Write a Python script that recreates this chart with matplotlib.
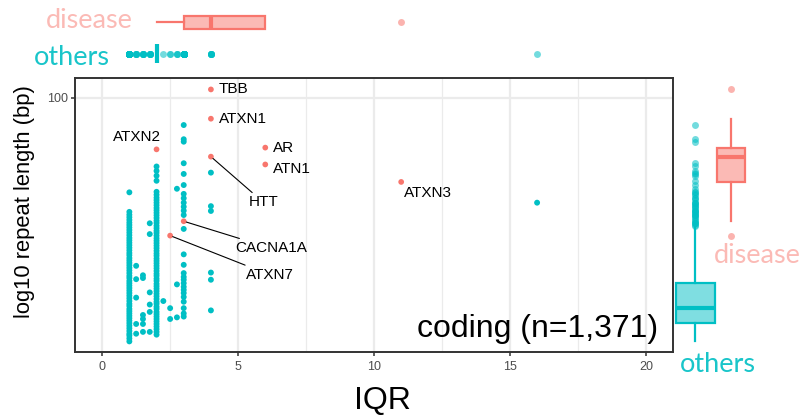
import numpy as np
import matplotlib
matplotlib.use("Agg")
import matplotlib.pyplot as plt
import matplotlib.colors as mcolors
from matplotlib import cbook
from matplotlib.ticker import FixedLocator, NullLocator

plt.rcParams['font.family'] = ['Liberation Sans', 'DejaVu Sans']

# ---------------- data ----------------
disease_genes = ['TBB', 'ATXN1', 'ATXN2', 'HTT', 'AR', 'ATN1', 'CACNA1A', 'ATXN7', 'ATXN3']
disease_iqr = [4, 4, 2, 4, 6, 6, 3, 2.5, 11]
disease_len = [108, 83, 63, 59, 64, 55, 33, 29, 47]

# "others" repeats, grouped by IQR value (repeat length in bp)
others_len_1 = [11.2, 11.5, 11.8, 12.0, 12.3, 12.6, 12.9, 13.2, 13.5, 13.8, 14.1, 14.4, 14.7,
                15.0, 15.4, 15.7, 16.1, 16.5, 16.9, 17.3, 17.7, 18.1, 18.5, 18.9, 19.3, 19.8,
                20.2, 20.7, 21.2, 21.7, 22.2, 22.7, 23.2, 23.7, 24.3, 24.8, 25.4, 26.0, 26.6,
                27.2, 27.8, 28.4, 29.1, 29.8, 30.5, 31.2, 31.9, 32.6, 33.4, 34.2, 35.0, 35.9, 42.8]
others_len_125 = [12.0, 13.1, 16.6, 19.6, 22.1]
others_len_15 = [12.2, 13.1, 13.7, 14.2, 19.8, 20.3]
others_len_175 = [12.2, 14.6, 15.6, 17.4, 29.4, 32.4]
others_len_2 = [11.9, 12.2, 12.5, 12.8, 13.1, 13.4, 13.7, 14.0, 14.3, 14.6, 15.0, 15.3, 15.7,
                16.0, 16.4, 16.8, 17.2, 17.6, 18.0, 18.4, 18.8, 19.3, 19.7, 20.2, 20.6, 21.1,
                21.6, 22.1, 22.6, 23.1, 23.6, 24.2, 24.7, 25.3, 25.9, 26.5, 27.1, 27.7, 28.3,
                29.0, 29.7, 30.3, 31.0, 31.7, 32.5, 33.2, 34.0, 34.8, 35.6, 36.4, 37.2, 38.1,
                39.0, 39.9, 40.8, 41.9, 43.0, 47.5, 49.7, 51.9, 54.0]
others_len_225 = [16.1]
others_len_25 = [13.7, 15.1]
others_len_275 = [13.9, 18.7, 44.2]
others_len_3 = [14.0, 14.4, 15.1, 16.0, 16.7, 17.3, 17.8, 18.3, 18.9, 19.5, 20.0, 20.7, 22.3,
                24.5, 30.8, 34.9, 36.3, 37.6, 39.0, 40.6, 42.2, 45.7, 50.5, 55.6, 67.5, 69.0, 78.4]
others_len_4 = [14.8, 19.5, 20.8, 36.2, 37.8, 51.1]
others_len_16 = [39.0]

others_group_iqr = [1, 1.25, 1.5, 1.75, 2, 2.25, 2.5, 2.75, 3, 4, 16]
others_group_len = [others_len_1, others_len_125, others_len_15, others_len_175, others_len_2,
                    others_len_225, others_len_25, others_len_275, others_len_3, others_len_4,
                    others_len_16]

# box summaries of the full "others" set (q1, median, q3, lower whisker, upper whisker)
others_box_iqr = [2, 2, 2, 2, 2]
others_box_len = [13.2, 15.1, 18.9, 11.2, 31.4]

x_ticks = [0, 5, 10, 15, 20]
x_minor = [2.5, 7.5, 12.5, 17.5]
y_ticks = [100]
annot_text = 'coding (n=1,371)'

# ---------------- layout ----------------
W, H, DPI = 803, 418, 100
C_OTH = '#00BFC4'
C_DIS = '#F8766D'

label_dx = [8, 8, -19.9, 52.5, 7.7, 7.7, 87.3, 99.8, 2.6]
label_dy = [0.7, 0, 12.3, -45.7, 0, -4.4, -27, -39.3, -11.3]
label_ha = ['left', 'left', 'center', 'center', 'left', 'left', 'center', 'center', 'left']
label_line = [False, False, False, True, False, False, True, True, False]

others_x = np.concatenate([[x] * len(v) for x, v in zip(others_group_iqr, others_group_len)])
others_y = np.concatenate([np.array(v, float) for v in others_group_len])
dis_x = np.array(disease_iqr, float)
dis_y = np.array(disease_len, float)


def px_rect(l, t, r, b):
    return [l / W, 1 - b / H, (r - l) / W, (b - t) / H]


def fx(px):
    return px / W


def fy(py):
    return 1 - py / H


fig = plt.figure(figsize=(W / DPI, H / DPI), dpi=DPI)

XLIM = (-1, 21)
YLIM = (10.18, 119.7)

# ---------------- main panel ----------------
ax = fig.add_axes(px_rect(75, 78, 673, 352))
ax.set_xlim(*XLIM)
ax.set_yscale('log')
ax.set_ylim(*YLIM)
ax.xaxis.set_major_locator(FixedLocator(x_ticks))
ax.xaxis.set_minor_locator(FixedLocator(x_minor))
ax.yaxis.set_major_locator(FixedLocator(y_ticks))
ax.yaxis.set_minor_locator(NullLocator())
ax.set_xticklabels([str(t) for t in x_ticks])
ax.set_yticklabels([str(t) for t in y_ticks])
ax.set_axisbelow(True)
ax.grid(which='major', color='#EBEBEB', linewidth=1.6)
ax.grid(which='minor', axis='x', color='#EBEBEB', linewidth=0.9)
for s in ax.spines.values():
    s.set_color('#333333')
    s.set_linewidth(1.4)
ax.tick_params(which='major', length=3.2, width=1.1, color='#333333',
               labelcolor='#4D4D4D', labelsize=9)
ax.tick_params(axis='x', pad=3)
ax.tick_params(axis='y', pad=2)
ax.tick_params(which='minor', length=0)

ax.scatter(others_x, others_y, s=18, color=C_OTH, edgecolors='none', zorder=3)
ax.scatter(dis_x, dis_y, s=17, color=C_DIS, edgecolors='none', zorder=4)

for g, x, y, dx, dy, ha, ln in zip(disease_genes, dis_x, dis_y, label_dx, label_dy,
                                   label_ha, label_line):
    kw = {}
    if ln:
        kw['arrowprops'] = dict(arrowstyle='-', color='black', lw=0.8,
                                shrinkA=0, shrinkB=2)
    ax.annotate(g, xy=(x, y), xytext=(dx, dy), textcoords='offset pixels',
                ha=ha, va='center', fontsize=11, color='black', zorder=5, **kw)

fig.text(fx(658), fy(337), annot_text, ha='right', va='baseline', fontsize=23)
fig.text(fx(382.5), fy(409), 'IQR', ha='center', va='baseline', fontsize=23)
fig.text(fx(25), fy(201.5), 'log10 repeat length (bp)', ha='center', va='center',
         rotation=90, fontsize=15.8)


# ---------------- marginal boxplots ----------------
def make_stats(vals5, data):
    q1, med, q3, lo, hi = vals5
    data = np.asarray(data, float)
    return dict(q1=q1, med=med, q3=q3, whislo=lo, whishi=hi,
                fliers=data[(data < lo) | (data > hi)])


def log_stats(data):
    st = cbook.boxplot_stats(np.log10(data))[0]
    out = {k: 10 ** np.asarray(st[k]) for k in ['q1', 'med', 'q3', 'whislo', 'whishi', 'fliers']}
    return out


def draw_box(axm, stats, pos, width, color, orientation):
    kw = dict(positions=[pos], widths=[width], patch_artist=True, showcaps=False,
              boxprops=dict(facecolor=mcolors.to_rgba(color, 0.5), edgecolor=color,
                            linewidth=1.6),
              medianprops=dict(color=color, linewidth=3.0, solid_capstyle='butt'),
              whiskerprops=dict(color=color, linewidth=1.6),
              flierprops=dict(marker='o', markerfacecolor=color, markeredgecolor='none',
                              markersize=5, alpha=0.55))
    try:
        axm.bxp([stats], orientation=orientation, **kw)
    except TypeError:
        axm.bxp([stats], vert=(orientation == 'vertical'), **kw)


# top: IQR distribution
axt = fig.add_axes(px_rect(75, 6.7, 673, 69.1))
axt.set_xlim(*XLIM)
axt.set_ylim(-0.5, 1.5)
draw_box(axt, make_stats(others_box_iqr, others_x), 0, 0.61, C_OTH, 'horizontal')
st_d = cbook.boxplot_stats(dis_x)[0]
draw_box(axt, dict(q1=st_d['q1'], med=st_d['med'], q3=st_d['q3'], whislo=st_d['whislo'],
                   whishi=st_d['whishi'], fliers=st_d['fliers']), 1, 0.43, C_DIS, 'horizontal')
axt.set_xlim(*XLIM)
axt.set_ylim(-0.5, 1.5)
axt.axis('off')

# right: repeat length distribution
axr = fig.add_axes(px_rect(674.2, 78, 748.75, 352))
axr.set_yscale('log')
draw_box(axr, make_stats(others_box_len, others_y), 0, 1.1, C_OTH, 'vertical')
draw_box(axr, log_stats(dis_y), 1, 0.79, C_DIS, 'vertical')
axr.set_xlim(-0.6, 1.5)
axr.set_ylim(*YLIM)
axr.axis('off')

# marginal group labels
mfam = ['Lato', 'DejaVu Sans']
fig.text(fx(132.8), fy(28.3), 'disease', ha='right', va='baseline', fontsize=19.5,
         family=mfam, color=C_DIS, alpha=0.5)
fig.text(fx(110), fy(65), 'others', ha='right', va='baseline', fontsize=19.5,
         family=mfam, color=C_OTH, alpha=0.9)
fig.text(fx(757.5), fy(262.7), 'disease', ha='center', va='baseline', fontsize=19.5,
         family=mfam, color=C_DIS, alpha=0.5)
fig.text(fx(717.5), fy(371.7), 'others', ha='center', va='baseline', fontsize=19.5,
         family=mfam, color=C_OTH, alpha=0.9)

fig.savefig('out.png', dpi=DPI)
